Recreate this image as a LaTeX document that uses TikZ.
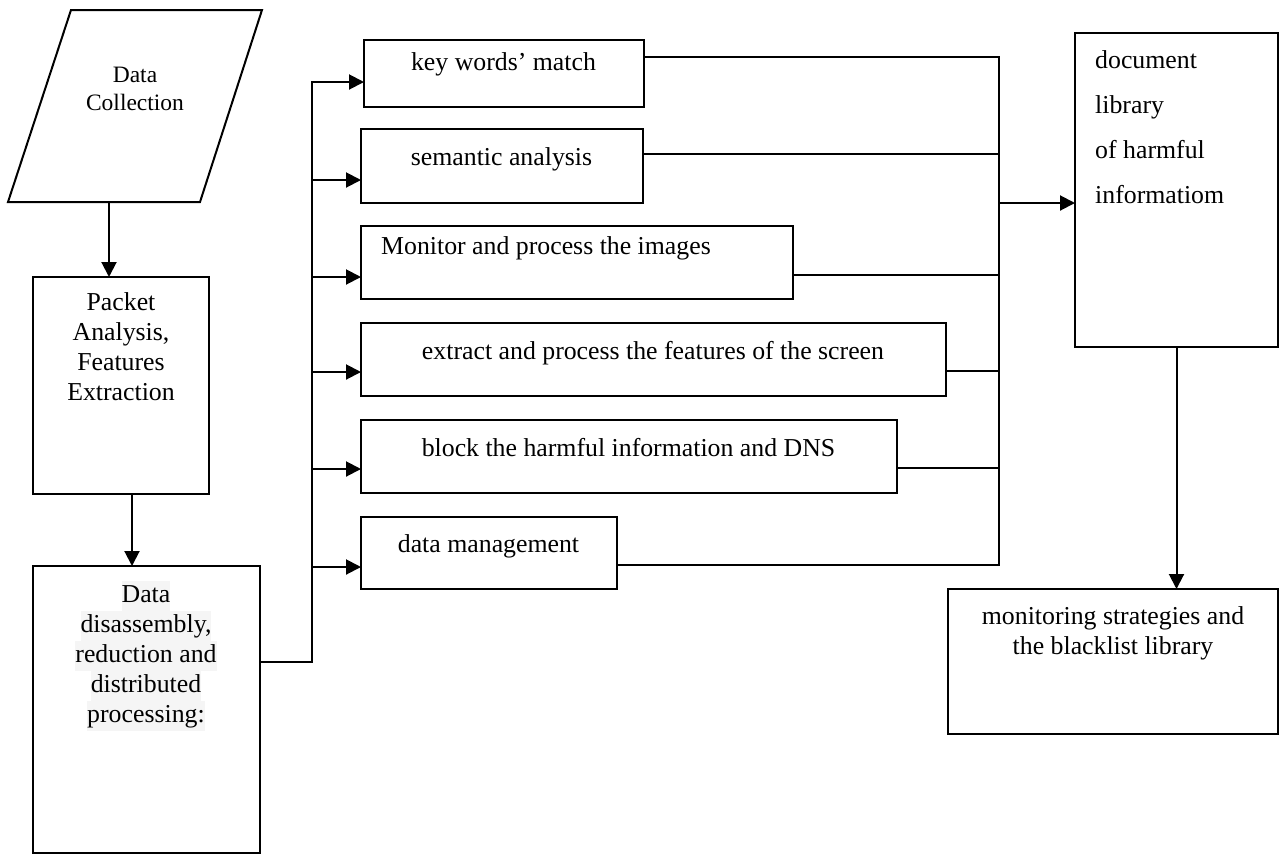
\documentclass[tikz,border=0pt]{standalone}
\usepackage{fontspec}
\setmainfont{Liberation Serif}
\usetikzlibrary{arrows.meta}
\definecolor{hl}{HTML}{F5F5F5}
\setlength{\fboxsep}{0pt}
\begin{document}
\begin{tikzpicture}[x=1pt,y=-1pt,
  box/.style={draw, line width=2pt, inner sep=0pt, outer sep=0pt, rectangle},
  ln/.style={line width=2pt},
  arr/.style={line width=2pt, -{Triangle[length=15pt,width=15pt]}},
  txt/.style={inner sep=0pt, anchor=base, font=\fontsize{25.8}{30}\selectfont}]
\useasboundingbox (0,0) rectangle (1280,855);

% Data Collection (parallelogram)
\coordinate (p1) at (71,10);
\coordinate (p2) at (262,10);
\coordinate (p3) at (200,202);
\coordinate (p4) at (8,202);
\draw[ln, line join=miter] (p1) -- (p2) -- (p3) -- (p4) -- cycle;
\node[txt, font=\fontsize{23.5}{28}\selectfont] (dct) at (135,82)
  {\begin{tabular}[t]{@{}c@{}}Data\\Collection\end{tabular}};
\coordinate (dcb) at (109,202);

% left column boxes
\node[box, minimum width=176, minimum height=217] (pa) at (121,385.5) {};
\node[txt] (pat) at (121,310)
  {\begin{tabular}[t]{@{}c@{}}Packet\\Analysis,\\Features\\Extraction\end{tabular}};

\node[box, minimum width=227, minimum height=287] (dd) at (146.5,709.5) {};
\node[txt] (ddt) at (146,602)
  {\begin{tabular}[t]{@{}c@{}}\colorbox{hl}{\strut Data}\\\colorbox{hl}{\strut disassembly,}\\\colorbox{hl}{\strut reduction and}\\\colorbox{hl}{\strut distributed}\\\colorbox{hl}{\strut processing:}\end{tabular}};

% middle boxes
\node[box, minimum width=280, minimum height=67] (kw) at (504,73.5) {};
\node[txt] (kwt) at (503.5,70) {key words’ match};
\node[box, minimum width=282, minimum height=74] (sa) at (502,166) {};
\node[txt] (sat) at (501.5,165) {semantic analysis};
\node[box, minimum width=432, minimum height=73] (mi) at (577,262.5) {};
\node[txt, anchor=base west] (mit) at (381,254) {Monitor and process the images};
\node[box, minimum width=585, minimum height=73] (ef) at (653.5,359.5) {};
\node[txt] (eft) at (653,359) {extract and process the features of the screen};
\node[box, minimum width=536, minimum height=73] (bh) at (629,456.5) {};
\node[txt] (bht) at (628.5,456) {block the harmful information and DNS};
\node[box, minimum width=256, minimum height=72] (dm) at (489,553) {};
\node[txt] (dmt) at (488.5,552) {data management};

% right boxes
\node[box, minimum width=203, minimum height=314] (doc) at (1176.5,190) {};
\node[txt, anchor=base west, font=\fontsize{25.8}{45}\selectfont] (doct) at (1095,68)
  {\begin{tabular}[t]{@{}l@{}}document\\library\\of harmful\\informatiom\end{tabular}};
\node[box, minimum width=330, minimum height=145] (mb) at (1113,661.5) {};
\node[txt] (mbt) at (1113,624)
  {\begin{tabular}[t]{@{}c@{}}monitoring strategies and\\the blacklist library\end{tabular}};

% connectors: left
\draw[arr] (dcb) -- (dcb |- pa.north);
\draw[arr] ([xshift=11pt]pa.south) -- ([xshift=11pt]pa.south |- dd.north);

\coordinate (lbt) at (312,82);
\coordinate (lbb) at (312,662);
\draw[arr, line join=miter] (dd.east |- lbb) -- (lbb) -- (lbt) -- (kw.west |- lbt);
\coordinate (saIn) at ([yshift=-14pt]sa.west);
\coordinate (miIn) at ([yshift=-14.5pt]mi.west);
\coordinate (efIn) at ([yshift=-12.5pt]ef.west);
\coordinate (bhIn) at ([yshift=-12.5pt]bh.west);
\coordinate (dmIn) at ([yshift=-14pt]dm.west);
\draw[arr] (lbt |- saIn) -- (saIn);
\draw[arr] (lbt |- miIn) -- (miIn);
\draw[arr] (lbt |- efIn) -- (efIn);
\draw[arr] (lbt |- bhIn) -- (bhIn);
\draw[arr] (lbt |- dmIn) -- (dmIn);

% connectors: right
\coordinate (rbt) at (999,57);
\coordinate (rbb) at (999,565);
\draw[ln, line join=miter] (kw.east |- rbt) -- (rbt) -- (rbb) -- (dm.east |- rbb);
\coordinate (saOut) at ([yshift=12pt]sa.east);
\coordinate (miOut) at ([yshift=-12.5pt]mi.east);
\coordinate (efOut) at ([yshift=-11.5pt]ef.east);
\coordinate (bhOut) at ([yshift=-11.5pt]bh.east);
\draw[ln] (saOut) -- (saOut -| rbt);
\draw[ln] (miOut) -- (miOut -| rbt);
\draw[ln] (efOut) -- (efOut -| rbt);
\draw[ln] (bhOut) -- (bhOut -| rbt);
\coordinate (docIn) at ([yshift=-13pt]doc.west);
\draw[arr] (docIn -| rbt) -- (docIn);
\draw[arr] (doc.south) -- (doc.south |- mb.north);
\end{tikzpicture}
\end{document}
